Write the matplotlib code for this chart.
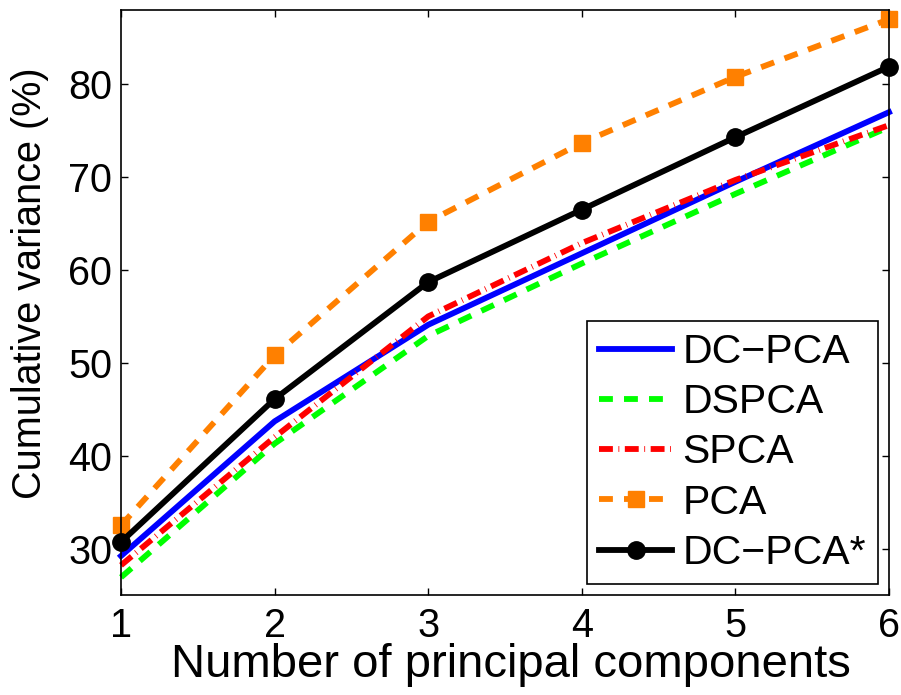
import numpy as np
import matplotlib.pyplot as plt

plt.rcParams['font.family'] = ['Liberation Sans', 'DejaVu Sans']
plt.rcParams['lines.scale_dashes'] = False

n_pc = [1, 2, 3, 4, 5, 6]
dc_pca = [29.2, 43.7, 54.1, 61.8, 69.5, 77.0]
dspca = [26.9, 41.3, 52.9, 60.7, 68.2, 75.4]
spca = [28.2, 42.0, 55.0, 62.9, 69.7, 75.6]
pca = [32.5, 50.8, 65.2, 73.7, 80.8, 87.0]
dc_pca_star = [30.7, 46.1, 58.7, 66.5, 74.3, 81.9]

fig = plt.figure(figsize=(9.01, 6.95), dpi=100)
ax = fig.add_axes([0.1343, 0.1439, 0.8524, 0.8417])

lw = 4.2
ax.plot(n_pc, dc_pca, color='#0000ff', lw=lw, label='DC\u2212PCA', clip_on=False)
ax.plot(n_pc, dspca, color='#00ff00', lw=lw, dashes=(10, 8), label='DSPCA', clip_on=False)
ax.plot(n_pc, spca, color='#ff0000', lw=lw, dashes=(10, 4, 0.6, 4), label='SPCA', clip_on=False)
ax.plot(n_pc, pca, color='#ff8000', lw=lw, dashes=(10, 8), marker='s', ms=12,
        label='PCA', clip_on=False)
ax.plot(n_pc, dc_pca_star, color='black', lw=lw, marker='o', ms=12.5,
        label='DC\u2212PCA*', clip_on=False)

ax.set_xlim(1, 6)
ax.set_ylim(25, 88)
ax.set_xticks(n_pc)
ax.set_yticks([30, 40, 50, 60, 70, 80])
ax.tick_params(direction='in', length=5, width=1, top=True, right=True,
               labelsize=28.5)
ax.tick_params(axis='x', pad=8.5)
ax.tick_params(axis='y', pad=6.5)
for s in ax.spines.values():
    s.set_linewidth(1.2)

ax.set_xlabel('Number of principal components', fontsize=34)
ax.set_ylabel('Cumulative variance (%)', fontsize=28.5)
ax.xaxis.set_label_coords(0.508, -0.082)
ax.yaxis.set_label_coords(-0.094, 0.533)

leg = ax.legend(loc='lower right', fontsize=29.5, frameon=True, fancybox=False,
                edgecolor='black', framealpha=1, handlelength=1.78,
                borderpad=0.3, labelspacing=0.3, handletextpad=0.25,
                borderaxespad=0.26)
leg.get_frame().set_linewidth(1.2)

fig.savefig('out.png', dpi=100)
